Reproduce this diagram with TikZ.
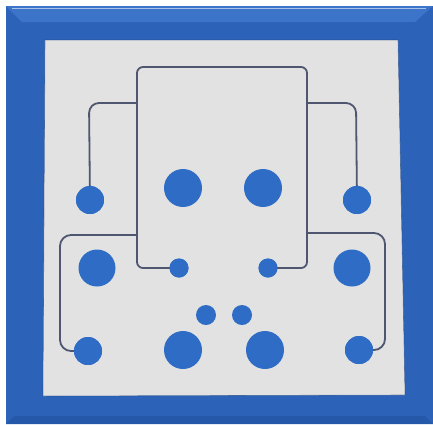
\documentclass[tikz,border=0pt]{standalone}
\definecolor{frameblue}{RGB}{44,98,184}
\definecolor{framelight}{RGB}{60,116,202}
\definecolor{framedark}{RGB}{38,88,170}
\definecolor{dotblue}{RGB}{46,108,198}
\definecolor{panelgray}{RGB}{226,226,226}
\definecolor{wire}{RGB}{78,86,112}
\tikzset{
  dot/.style={circle,fill=dotblue,inner sep=0pt,minimum size=#1},
  wireline/.style={draw=wire,line width=1.8pt,rounded corners=#1},
}
\begin{document}
\begin{tikzpicture}[x=1pt,y=-1pt]
\useasboundingbox (0,0) rectangle (433,424);
\fill[white] (0,0) rectangle (433,424);
% frame
\fill[frameblue] (6,6) rectangle (433,424);
\fill[framelight] (6,6) -- (433,6) -- (415,22) -- (22,22) -- cycle;
\fill[framedark] (433,424) -- (6,424) -- (14,416) -- (425,416) -- cycle;
\draw[white!55!framelight,line width=1pt] (12,8.5) -- (426,8.5);
% panel
\fill[panelgray] (45,40) -- (398,40) -- (405,395) -- (43,396) -- cycle;
\draw[framedark!70!black,line width=0.6pt,opacity=0.5] (45,40) -- (398,40) -- (405,395) -- (43,396) -- cycle;
% dots
\node[dot=28pt] (dL1) at (90,200) {};
\node[dot=28pt] (dR1) at (357,200) {};
\node[dot=38pt] (dC1) at (183,188) {};
\node[dot=38pt] (dC2) at (263,188) {};
\node[dot=19pt] (dM1) at (179,268) {};
\node[dot=19pt] (dM2) at (268,268) {};
\node[dot=37pt] (dL2) at (97,268) {};
\node[dot=37pt] (dR2) at (352,268) {};
\node[dot=20pt] (dS1) at (206,315) {};
\node[dot=20pt] (dS2) at (242,315) {};
\node[dot=28pt] (dB1) at (88,351) {};
\node[dot=38pt] (dB2) at (183,350) {};
\node[dot=38pt] (dB3) at (265,350) {};
\node[dot=28pt] (dB4) at (359,350) {};
% wires
\coordinate (rTL) at (137,67);
\coordinate (rTR) at (307,67);
\coordinate (rl1) at (137,103);
\coordinate (rr1) at (307,103);
\coordinate (rl2) at (137,235);
\coordinate (rr2) at (307,233);
\path[wireline=6pt] (dM1.center) -- (137,268) -- (rTL) -- (rTR) -- (307,268) -- (dM2.center);
\path[wireline=10pt] (rl1) -- (89,103) -- (dL1.center);
\path[wireline=10pt] (rr1) -- (356,103) -- (dR1.center);
\path[wireline=11pt] (rl2) -- (60,235) -- (60,351) -- (dB1.center);
\path[wireline=11pt] (rr2) -- (385,233) -- (385,350) -- (dB4.center);
% redraw wired dots on top
\foreach \n/\s in {dL1/28,dR1/28,dM1/19,dM2/19,dB1/28,dB4/28}{
  \fill[dotblue] (\n.center) circle (\s/2);
}
\end{tikzpicture}
\end{document}
